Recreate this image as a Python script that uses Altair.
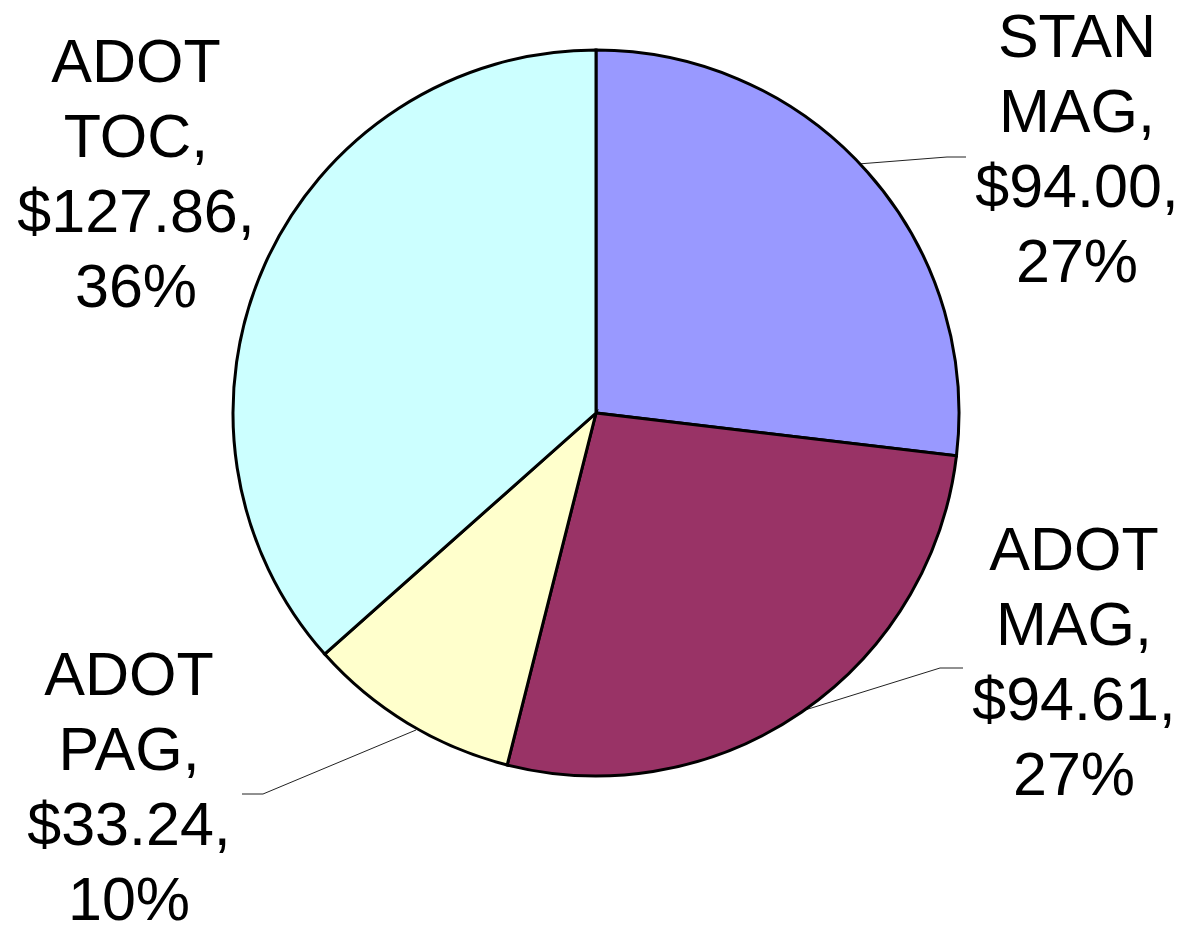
import altair as alt
import pandas as pd

# Data
categories = ["STAN MAG", "ADOT MAG", "ADOT PAG", "ADOT TOC"]
amounts = [94.00, 94.61, 33.24, 127.86]
percents = ["27%", "27%", "10%", "36%"]
colors = ["#9999FF", "#993366", "#FFFFCC", "#CCFFFF"]

df = pd.DataFrame({
    "category": categories,
    "amount": amounts,
    "pct": percents,
    "order": list(range(len(categories))),
})
df["label"] = [
    c.replace(" ", "\n") + ",\n" + f"${a:.2f},\n" + p
    for c, a, p in zip(categories, amounts, percents)
]

OFF = 8  # page margin
CX, CY, R = 596 - OFF, 413 - OFF, 363

base = alt.Chart(df)

pie = base.mark_arc(radius=R, stroke="black", strokeWidth=3).encode(
    theta=alt.Theta("amount:Q", stack=True),
    order=alt.Order("order:Q"),
    color=alt.Color("category:N", scale=alt.Scale(domain=categories, range=colors), legend=None),
    x=alt.value(CX),
    y=alt.value(CY),
)

# label anchor positions (page coords -> chart coords)
label_pos = {
    "STAN MAG": (1077, 57),
    "ADOT MAG": (1074, 570),
    "ADOT PAG": (129, 695),
    "ADOT TOC": (136, 82),
}

labels = []
for cat, (lx, ly) in label_pos.items():
    labels.append(
        base.transform_filter(alt.datum.category == cat)
        .mark_text(
            font="Liberation Sans", fontSize=61, lineBreak="\n", lineHeight=75,
            align="center", baseline="alphabetic", color="black",
        )
        .encode(text="label:N", x=alt.value(lx - OFF), y=alt.value(ly - OFF))
    )

# leader lines (segments)
segs = [
    (858, 164, 947, 157), (947, 157, 966, 157),
    (805, 710, 940, 668), (940, 668, 963, 668),
    (416, 730, 263, 794), (263, 794, 242, 794),
]
rules = []
for x1, y1, x2, y2 in segs:
    rules.append(
        alt.Chart(pd.DataFrame({"a": [0]})).mark_rule(color="#222222", strokeWidth=1).encode(
            x=alt.value(x1 - OFF), y=alt.value(y1 - OFF),
            x2=alt.value(x2 - OFF), y2=alt.value(y2 - OFF),
        )
    )

chart = alt.layer(*rules, pie, *labels).properties(
    width=1167, height=923,
    autosize=alt.AutoSizeParams(type="none"),
    padding=0,
).configure_view(stroke=None)

chart.save("out.html", embed_options={"renderer": "svg", "actions": False})
